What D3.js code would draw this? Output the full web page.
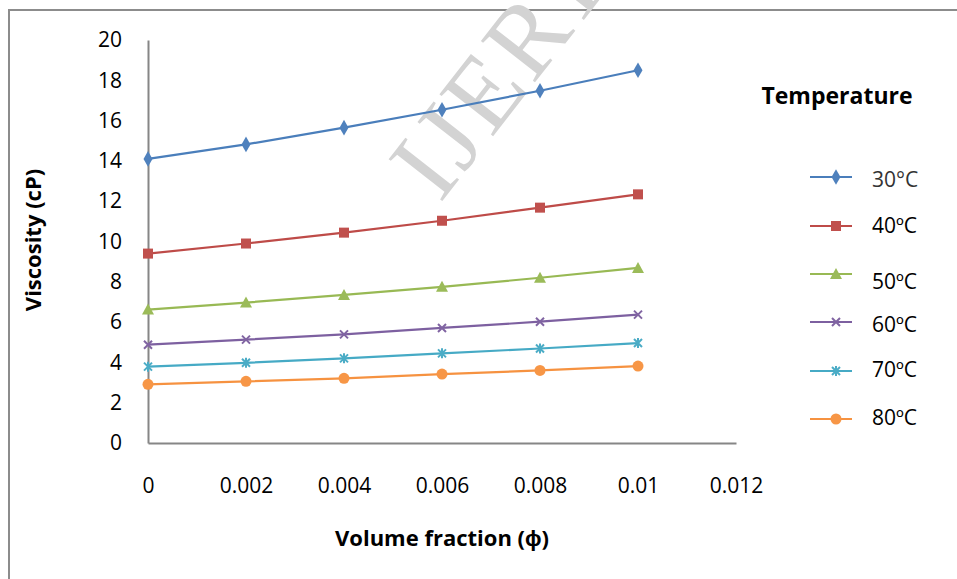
<!DOCTYPE html>
<html>
<head>
<meta charset="utf-8">
<script src="https://cdn.jsdelivr.net/npm/d3@7"></script>
<style>
  body { margin: 0; background: #fff; }
  svg { display: block; font-family: "Open Sans", sans-serif; }
</style>
</head>
<body>
<svg id="chart" width="957" height="579"></svg>
<script>
// volume fraction values (x)
const fractions = [0, 0.002, 0.004, 0.006, 0.008, 0.01]
const xTicks = [0, 0.002, 0.004, 0.006, 0.008, 0.01, 0.012]
const yTicks = [0, 2, 4, 6, 8, 10, 12, 14, 16, 18, 20]

// viscosity (cP) per temperature
const temps = ["30°C", "40ºC", "50ºC", "60ºC", "70ºC", "80ºC"]
const v30 = [14.1, 14.82, 15.65, 16.54, 17.48, 18.5]
const v40 = [9.4, 9.9, 10.44, 11.03, 11.68, 12.34]
const v50 = [6.62, 6.97, 7.35, 7.75, 8.2, 8.69]
const v60 = [4.88, 5.13, 5.39, 5.71, 6.02, 6.37]
const v70 = [3.79, 3.98, 4.2, 4.45, 4.69, 4.96]
const v80 = [2.91, 3.06, 3.21, 3.42, 3.6, 3.82]
const allValues = [v30, v40, v50, v60, v70, v80]

const lineColors = ["#4a7ebb", "#be4b48", "#98b954", "#7d60a0", "#46aac5", "#f69240"]
const markColors = ["#4f81bd", "#c0504d", "#9bbb59", "#8064a2", "#4bacc6", "#f79646"]
const shapes = ["diamond", "square", "triangle", "x", "star", "circle"]

let svg = d3.select("#chart")

// outer frame
svg.append("rect")
   .attr("x", 9).attr("y", 10)
   .attr("width", 980).attr("height", 600)
   .attr("fill", "none")
   .attr("stroke", "#8c8c8c")
   .attr("stroke-width", 2)

// watermark (cut off at the top, like the source)
svg.append("text")
   .attr("transform", "translate(440,204) rotate(-52)")
   .attr("font-family", "Liberation Serif, serif")
   .attr("font-size", 104)
   .attr("letter-spacing", 4)
   .attr("fill", "#d3d3d3")
   .text("IJERT")

let x = d3.scaleLinear().domain([0, 0.012]).range([148, 736])
let y = d3.scaleLinear().domain([0, 20]).range([443, 40])

// axes
let xAxis = svg.append("g")
   .attr("transform", "translate(0,443)")
   .call(d3.axisBottom(x).tickValues(xTicks).tickSize(0).tickPadding(35)
          .tickFormat(d => d === 0 ? "0" : String(+d.toFixed(3))))
xAxis.select(".domain").attr("stroke", "#868686").attr("stroke-width", 2)
xAxis.selectAll("text").attr("font-size", 21).attr("fill", "#000").attr("font-family", "Open Sans")

let yAxis = svg.append("g")
   .attr("transform", "translate(148,0)")
   .call(d3.axisLeft(y).tickValues(yTicks).tickSize(0).tickPadding(26))
yAxis.select(".domain").attr("stroke", "#868686").attr("stroke-width", 2)
yAxis.selectAll("text").attr("font-size", 21).attr("fill", "#000").attr("font-family", "Open Sans")

// axis titles
svg.append("text")
   .attr("transform", "translate(41,240) rotate(-90)")
   .attr("text-anchor", "middle")
   .attr("font-size", 22).attr("font-weight", "bold")
   .text("Viscosity (cP)")

svg.append("text")
   .attr("x", 442).attr("y", 546)
   .attr("text-anchor", "middle")
   .attr("font-size", 22).attr("font-weight", "bold")
   .text("Volume fraction (ϕ)")

// marker drawing
function marker(g, shape, color) {
  if (shape === "diamond") {
    g.append("path").attr("d", d3.symbol(d3.symbolDiamond, 70)()).attr("fill", color)
  } else if (shape === "square") {
    g.append("rect").attr("x", -5).attr("y", -5).attr("width", 10).attr("height", 10).attr("fill", color)
  } else if (shape === "triangle") {
    g.append("path").attr("d", "M0,-6L6,5L-6,5Z").attr("fill", color)
  } else if (shape === "x") {
    g.append("path").attr("d", "M-4,-4L4,4M-4,4L4,-4").attr("stroke", color).attr("stroke-width", 2)
  } else if (shape === "star") {
    g.append("path").attr("d", "M-4,-4L4,4M-4,4L4,-4M0,-5L0,5").attr("stroke", color).attr("stroke-width", 2)
  } else {
    g.append("circle").attr("r", 5.5).attr("fill", color)
  }
}

let line = d3.line()
   .x(d => x(d.x))
   .y(d => y(d.y))

allValues.forEach(function(vals, i) {
  let pts = vals.map((v, j) => ({x: fractions[j], y: v}))
  svg.append("path")
     .datum(pts)
     .attr("d", line)
     .attr("fill", "none")
     .attr("stroke", lineColors[i])
     .attr("stroke-width", 2.2)
  pts.forEach(function(p) {
    let g = svg.append("g").attr("transform", `translate(${x(p.x)},${y(p.y)})`)
    marker(g, shapes[i], markColors[i])
  })
})

// legend
svg.append("text")
   .attr("x", 837).attr("y", 104)
   .attr("text-anchor", "middle")
   .attr("font-size", 23).attr("font-weight", "bold")
   .text("Temperature")

let legendY = [177, 226, 274, 322, 371, 419]
let labelY = [180, 226, 282, 325, 370, 418]
temps.forEach(function(t, i) {
  svg.append("line")
     .attr("x1", 810).attr("x2", 852)
     .attr("y1", legendY[i]).attr("y2", legendY[i])
     .attr("stroke", lineColors[i]).attr("stroke-width", 2.2)
  let g = svg.append("g").attr("transform", `translate(836,${legendY[i]})`)
  marker(g, shapes[i], markColors[i])
  svg.append("text")
     .attr("x", 872).attr("y", labelY[i])
     .attr("dy", "0.35em")
     .attr("font-size", 21)
     .attr("fill", i === 0 ? "#333" : "#000")
     .text(t)
})
</script>
</body>
</html>
